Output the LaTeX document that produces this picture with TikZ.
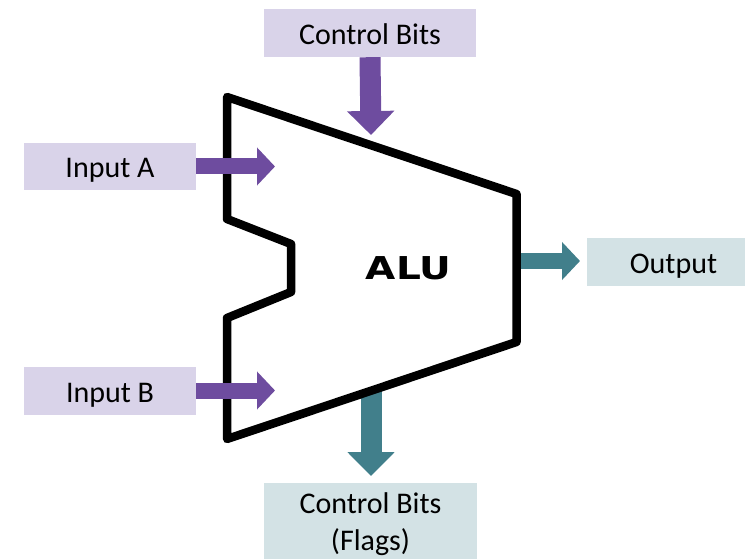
\documentclass[tikz,border=0pt]{standalone}
\usepackage{fontspec}
\setmainfont{Carlito}
\newfontfamily\alufont{DejaVu Sans}
\usetikzlibrary{arrows.meta}

\definecolor{boxviolet}{HTML}{D9D3E9}
\definecolor{boxteal}{HTML}{D3E2E5}
\definecolor{arrowviolet}{HTML}{6E4C9F}
\definecolor{arrowteal}{HTML}{417F8B}

\tikzset{
  label box/.style={inner sep=0pt, font=\fontsize{30}{37}\selectfont,
                    text height=26pt, text depth=3pt},
  in box/.style={label box, fill=boxviolet},
  out box/.style={label box, fill=boxteal},
  hflow/.style={line width=16pt, -{Triangle[length=18pt,width=37pt]}},
  vflow/.style={line width=21pt, -{Triangle[length=24pt,width=46pt]}},
  alu outline/.style={line width=8.5pt, line join=round, draw=black}
}

\begin{document}
\begin{tikzpicture}[x=1pt,y=-1pt]
\clip (0,0) rectangle (745,559);

% labelled boxes
\node[in box, minimum width=212pt, minimum height=48pt] (ctl)  at (370,33)    {Control Bits};
\node[in box, minimum width=172pt, minimum height=47pt] (ina)  at (110,166.5) {Input A};
\node[in box, minimum width=172pt, minimum height=48pt] (inb)  at (110,390.5) {Input B};
\node[out box, minimum width=173pt, minimum height=48pt] (out) at (673.5,262) {Output};
\node[fill=boxteal, inner sep=0pt, minimum width=213pt, minimum height=82pt,
      align=center, font=\fontsize{30}{37}\selectfont] (flags) at (370.5,524)
      {Control Bits\\(Flags)};

% ALU outline corners
\coordinate (tl) at (227,97);
\coordinate (tr) at (516.5,194);
\coordinate (br) at (516.5,342);
\coordinate (bl) at (227,439);
\coordinate (n1) at (227,318);
\coordinate (n2) at (291,292);
\coordinate (n3) at (291,244);
\coordinate (n4) at (227,219);

% arrow end points
\coordinate (ctlTip)   at (371,135);
\coordinate (inaTip)   at (275,166.5);
\coordinate (inbTip)   at (275,390.5);
\coordinate (outStart) at (516.5,261);
\coordinate (outTip)   at (580,261);
\coordinate (flgStart) at (371,388);
\coordinate (flgTip)   at (371,476);

% flows leaving the ALU sit behind its outline
\draw[vflow, arrowteal] (flgStart) -- (flgTip);
\draw[hflow, arrowteal] (outStart) -- (outTip);

% ALU body
\draw[alu outline, fill=white] (tl) -- (tr) -- (br) -- (bl) -- (n1) -- (n2) -- (n3) -- (n4) -- cycle;
\node[font=\alufont\bfseries\fontsize{31.5}{36}\selectfont, xscale=1.24, inner sep=0pt] (alu) at (408.5,268.5) {ALU};

% flows entering the ALU
\draw[vflow, arrowviolet] (ctl.south) -- (ctlTip);
\draw[hflow, arrowviolet] (ina.east) -- (inaTip);
\draw[hflow, arrowviolet] (inb.east) -- (inbTip);
\end{tikzpicture}
\end{document}
